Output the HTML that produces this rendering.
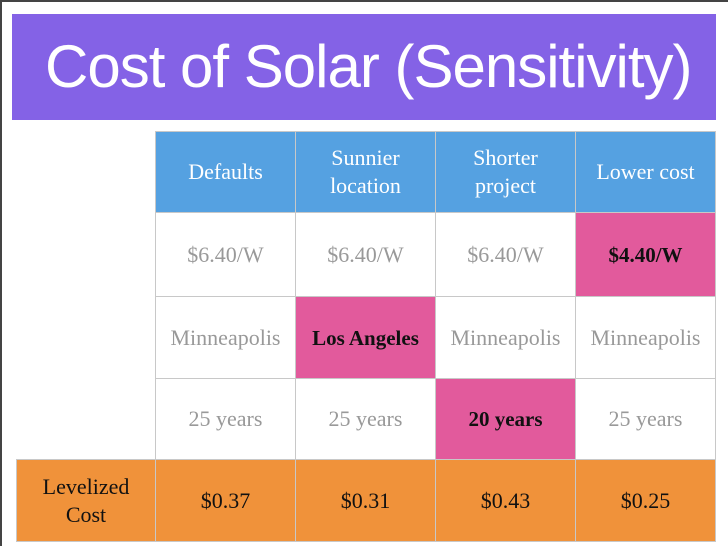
<!DOCTYPE html>
<html><head><meta charset="utf-8"><style>
body{margin:0;width:728px;height:546px;background:#fff;position:relative;overflow:hidden;font-family:"Liberation Serif",serif}
#frame{position:absolute;left:0;top:0;width:728px;height:546px;border-left:2px solid #444;border-top:2px solid #444;box-sizing:border-box}
#title{position:absolute;left:12px;top:14px;width:704px;height:106px;background:#8462e6;color:#fff;font-family:"Liberation Sans",sans-serif;font-size:60px;letter-spacing:-1px;line-height:106px;padding-left:33px;box-sizing:border-box;white-space:nowrap}
.c{position:absolute;box-sizing:border-box;border:1px solid #c8c8c8;display:flex;align-items:center;justify-content:center;text-align:center;font-size:22px;line-height:28px;color:#999}
.h{background:#55a1e1;color:#fff}
.p{background:#e25a9c;color:#111;font-weight:bold;font-size:21px}
.o{background:#f0923a;color:#111}
</style></head><body>
<div id="frame"></div>
<div id="title">Cost of Solar (Sensitivity)</div>
<div id="tbl"></div>
<script>
const xs=[155,295,435,575,715];
const ys=[131,212,296,378,459,541];
const rows=[
 [["Defaults","h"],["Sunnier<br>location","h"],["Shorter<br>project","h"],["Lower cost","h"]],
 [["$6.40/W",""],["$6.40/W",""],["$6.40/W",""],["$4.40/W","p"]],
 [["Minneapolis",""],["Los Angeles","p"],["Minneapolis",""],["Minneapolis",""]],
 [["25 years",""],["25 years",""],["20 years","p"],["25 years",""]],
 [["$0.37","o"],["$0.31","o"],["$0.43","o"],["$0.25","o"]]
];
const names=["header","price","location","duration","levelized-cost"];
const t=document.getElementById('tbl');
rows.forEach((r,i)=>r.forEach((c,j)=>{
 const d=document.createElement('div');
 d.className='c '+c[1];
 d.style.left=xs[j]+'px';d.style.top=ys[i]+'px';
 d.style.width=(xs[j+1]-xs[j]+1)+'px';d.style.height=(ys[i+1]-ys[i]+1)+'px';
 d.innerHTML=c[0];
 
 
 t.appendChild(d);
}));
const l=document.createElement('div');
l.className='c o';
l.style.left='16px';l.style.top=ys[4]+'px';l.style.width=(155-16+1)+'px';l.style.height=(ys[5]-ys[4]+1)+'px';
l.innerHTML='Levelized<br>Cost';


t.appendChild(l);
</script>
</body></html>
